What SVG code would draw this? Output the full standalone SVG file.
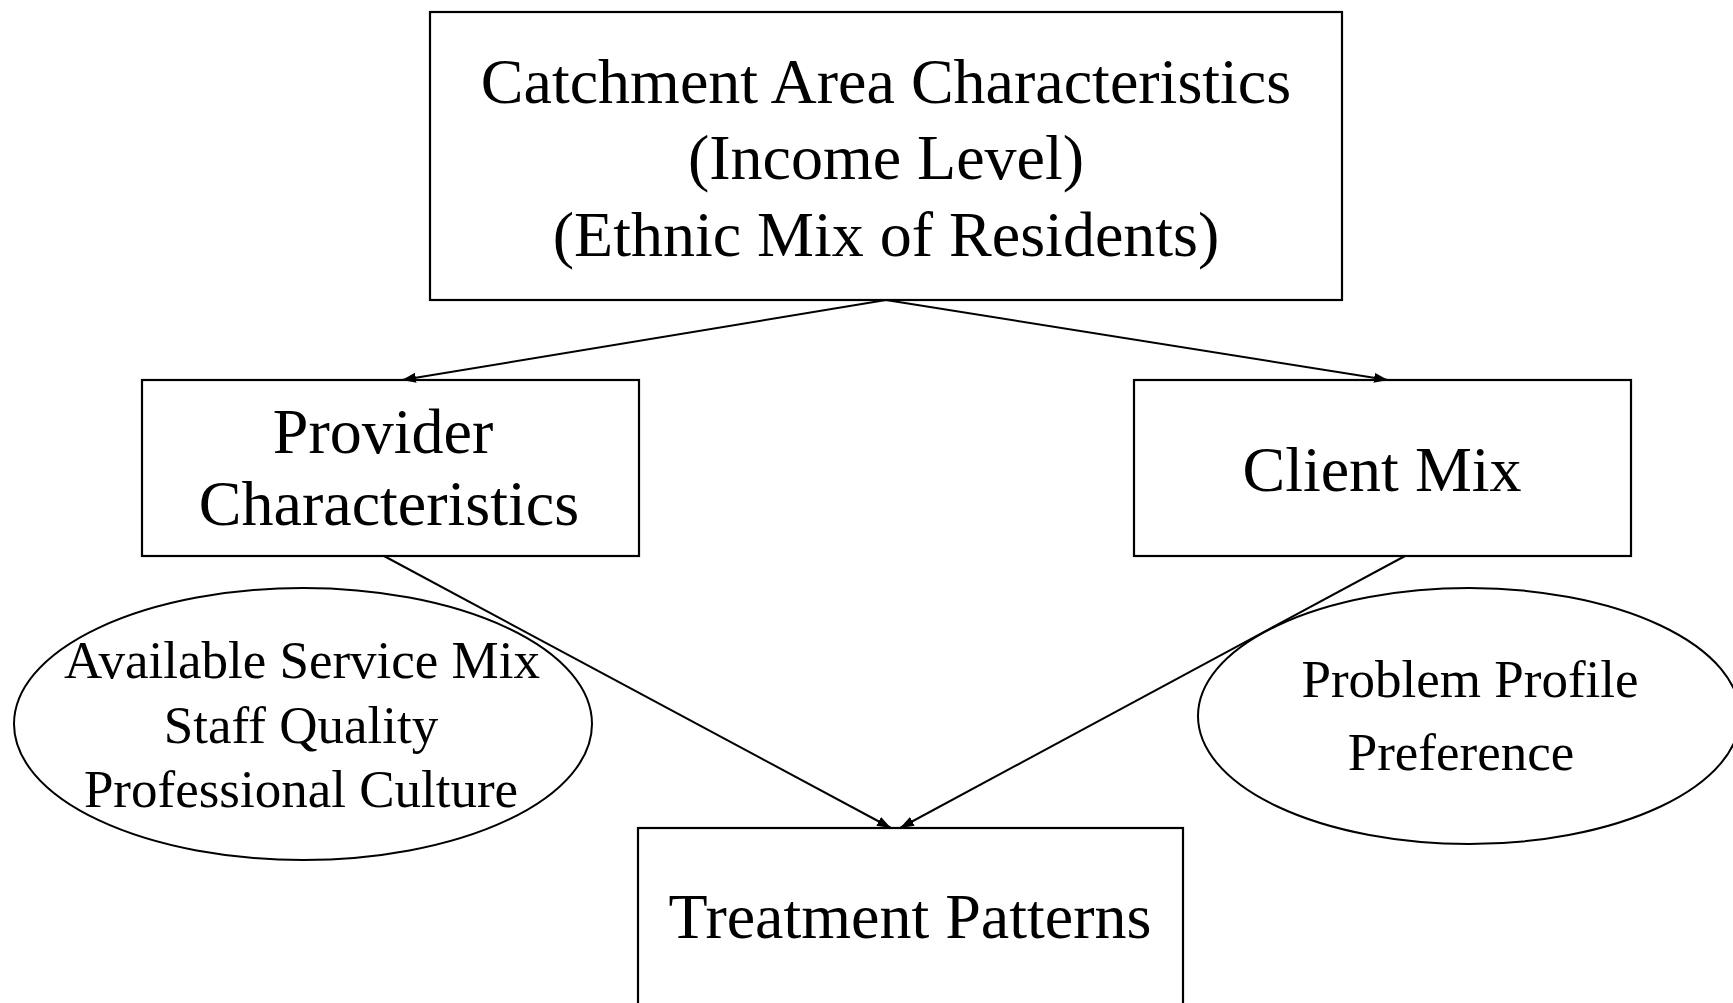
<svg xmlns="http://www.w3.org/2000/svg" width="1733" height="1003" viewBox="0 0 1733 1003">
<style>
.box{fill:#fff;stroke:#000;stroke-width:2.2}
.ell{fill:none;stroke:#000;stroke-width:2}
.big{font-family:"Liberation Serif","Times New Roman",serif;font-size:64px;fill:#000;text-anchor:middle}
.small{font-family:"Liberation Serif","Times New Roman",serif;font-size:53px;fill:#000;text-anchor:middle}
.conn{stroke:#000;stroke-width:2;fill:none;marker-end:url(#arr)}
</style>
<defs>
<marker id="arr" markerUnits="userSpaceOnUse" markerWidth="16" markerHeight="12" refX="14" refY="5" orient="auto">
<path d="M0,0 L14,5 L0,10 Z" fill="#000"/>
</marker>
</defs>
<rect width="1733" height="1003" fill="#fff"/>
<g id="catchment">
<rect class="box" x="430" y="12" width="912" height="288"/>
<text class="big" x="886" y="103">Catchment Area Characteristics</text>
<text class="big" x="886" y="179">(Income Level)</text>
<text class="big" x="886" y="256">(Ethnic Mix of Residents)</text>
</g>
<g id="provider">
<rect class="box" x="142" y="380" width="497" height="176"/>
<text class="big" x="383" y="453">Provider</text>
<text class="big" x="389" y="525">Characteristics</text>
</g>
<g id="client">
<rect class="box" x="1134" y="380" width="497" height="176"/>
<text class="big" x="1382" y="491">Client Mix</text>
</g>
<g id="provider-attrs">
<ellipse class="ell" cx="303" cy="724" rx="289" ry="136"/>
<text class="small" x="302" y="678">Available Service Mix</text>
<text class="small" x="301" y="743">Staff Quality</text>
<text class="small" x="301" y="807">Professional Culture</text>
</g>
<g id="client-attrs">
<ellipse class="ell" cx="1469" cy="716" rx="271" ry="128"/>
<text class="small" x="1470" y="697">Problem Profile</text>
<text class="small" x="1461" y="770">Preference</text>
</g>
<g id="treatment">
<rect class="box" x="638" y="828" width="545" height="200"/>
<text class="big" x="910" y="938">Treatment Patterns</text>
</g>
<g id="connectors">
<line class="conn" x1="886" y1="300" x2="402" y2="380"/>
<line class="conn" x1="886" y1="300" x2="1388" y2="380"/>
<line class="conn" x1="384" y1="556" x2="891" y2="828"/>
<line class="conn" x1="1405" y1="556" x2="900" y2="828"/>
</g>
</svg>
